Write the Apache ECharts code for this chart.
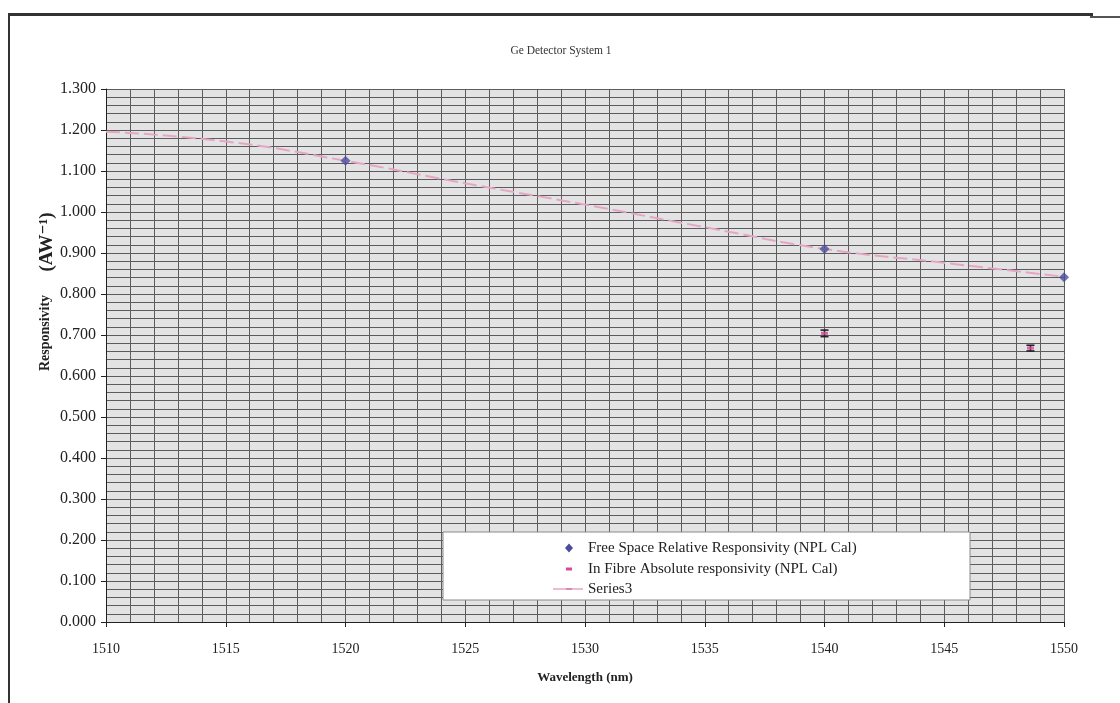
<!DOCTYPE html>
<html>
<head>
<meta charset="utf-8">
<title>Ge Detector System 1</title>
<script src="https://cdn.jsdelivr.net/npm/echarts@6/dist/echarts.min.js"></script>
<style>
  html, body { margin: 0; padding: 0; background: #fff; }
  #chart { width: 1120px; height: 703px; }
</style>
</head>
<body>
<div id="chart"></div>
<script>
// Wavelength axis (nm) and responsivity axis (A/W)
const xMin = 1510, xMax = 1550, xStep = 5;
const yMin = 0, yMax = 1.3, yStep = 0.1;

// Free space relative responsivity (NPL Cal)
const freeSpaceWavelength = [1520, 1540, 1550];
const freeSpaceResponsivity = [1.125, 0.910, 0.841];

// In fibre absolute responsivity (NPL Cal) with its uncertainty
const inFibreWavelength = [1540, 1548.6];
const inFibreResponsivity = [0.704, 0.668];
const inFibreUncertainty = [0.008, 0.007];

// Series3: responsivity curve
const series3Wavelength = [1510, 1515, 1520, 1525, 1530, 1535, 1540, 1545, 1550];
const series3Responsivity = [1.196, 1.172, 1.125, 1.070, 1.018, 0.963, 0.910, 0.876, 0.842];

const seriesNames = [
  'Free Space Relative Responsivity (NPL Cal)',
  'In Fibre Absolute responsivity (NPL Cal)',
  'Series3'
];

const serif = '"Liberation Serif", "DejaVu Serif", serif';
const pairs = (xs, ys) => xs.map((x, i) => [x, ys[i]]);

const chart = echarts.init(document.getElementById('chart'));

const option = {
  animation: false,
  backgroundColor: '#ffffff',
  title: {
    text: 'Ge Detector System 1',
    left: 556, top: 40, textAlign: 'center',
    textStyle: { fontFamily: serif, fontSize: 11.5, fontWeight: 'normal', color: '#333' }
  },
  grid: {
    left: 106, right: 56, top: 89, bottom: 81,
    show: true, backgroundColor: '#e3e3e3', borderWidth: 0
  },
  xAxis: {
    type: 'value', min: xMin, max: xMax, interval: xStep,
    name: 'Wavelength (nm)', nameLocation: 'middle', nameGap: 49,
    nameTextStyle: { fontFamily: serif, fontSize: 13, fontWeight: 'bold', color: '#222' },
    axisLine: { show: true, onZero: false, lineStyle: { color: '#222', width: 1 } },
    axisTick: { show: true, length: 5, lineStyle: { color: '#222' } },
    axisLabel: { fontFamily: serif, fontSize: 14, color: '#222', margin: 20,
                 formatter: v => String(v) },
    splitLine: { show: true, lineStyle: { color: '#5c5c5c', width: 1 } },
    minorTick: { show: false, splitNumber: 5 },
    minorSplitLine: { show: true, lineStyle: { color: '#5c5c5c', width: 1 } }
  },
  yAxis: {
    type: 'value', min: yMin, max: yMax, interval: yStep,
    axisLine: { show: true, lineStyle: { color: '#222', width: 1 } },
    axisTick: { show: true, length: 5, lineStyle: { color: '#222' } },
    axisLabel: {
      fontFamily: serif, fontSize: 16, color: '#222', margin: 10,
      formatter: v => v.toFixed(3)
    },
    splitLine: { show: true, lineStyle: { color: '#5c5c5c', width: 1 } },
    minorTick: { show: false, splitNumber: 5 },
    minorSplitLine: { show: true, lineStyle: { color: '#5c5c5c', width: 1 } }
  },
  series: [
    {
      name: seriesNames[2],
      type: 'line',
      data: pairs(series3Wavelength, series3Responsivity),
      showSymbol: false, symbol: 'none', smooth: true,
      lineStyle: { color: '#e6a6c3', width: 2, type: [14, 5] },
      z: 3
    },
    {
      name: seriesNames[0],
      type: 'scatter',
      data: pairs(freeSpaceWavelength, freeSpaceResponsivity),
      symbol: 'diamond', symbolSize: 10,
      itemStyle: { color: '#4b4c9c' },
      z: 5
    },
    {
      name: seriesNames[1] + ' uncertainty',
      type: 'custom',
      data: inFibreWavelength.map((x, i) => [x, inFibreResponsivity[i], inFibreUncertainty[i]]),
      renderItem: function (params, api) {
        const x = api.value(0), y = api.value(1), e = api.value(2);
        const hi = api.coord([x, y + e]);
        const lo = api.coord([x, y - e]);
        const cap = 4;
        const st = { stroke: '#222', lineWidth: 1.6 };
        return {
          type: 'group',
          children: [
            { type: 'line', shape: { x1: hi[0], y1: hi[1], x2: lo[0], y2: lo[1] }, style: st },
            { type: 'line', shape: { x1: hi[0] - cap, y1: hi[1], x2: hi[0] + cap, y2: hi[1] }, style: st },
            { type: 'line', shape: { x1: lo[0] - cap, y1: lo[1], x2: lo[0] + cap, y2: lo[1] }, style: st }
          ]
        };
      },
      z: 5
    },
    {
      name: seriesNames[1],
      type: 'scatter',
      data: pairs(inFibreWavelength, inFibreResponsivity),
      symbol: 'rect', symbolSize: [7, 3],
      itemStyle: { color: '#d9469e' },
      z: 6
    }
  ],
  graphic: []
};

// Y axis title: two parts with different sizes, rotated
option.graphic.push(
  {
    type: 'text', x: 45, y: 333, rotation: Math.PI / 2,
    style: { text: 'Responsivity', font: 'bold 14px ' + serif, fill: '#222',
             align: 'center', verticalAlign: 'middle' }
  },
  {
    type: 'text', x: 47, y: 242, rotation: Math.PI / 2,
    style: { text: '(AW\u207B\u00B9)', font: 'bold 19px ' + serif, fill: '#222',
             align: 'center', verticalAlign: 'middle' }
  }
);

// Page frame: rule above the chart and left border
option.graphic.push(
  { type: 'rect', shape: { x: 8, y: 13, width: 1085, height: 3 }, style: { fill: '#333' } },
  { type: 'rect', shape: { x: 1090, y: 16, width: 30, height: 2 }, style: { fill: '#555' } },
  { type: 'rect', shape: { x: 8, y: 13, width: 2, height: 690 }, style: { fill: '#333' } }
);

// Legend box with the three series keys, entries centred in the box
const lgX = 443, lgY = 532, lgW = 527, lgH = 68;
const rowY = [548, 569, 589];
const iconX = 569, textX = 588;
option.graphic.push(
  { type: 'rect', shape: { x: lgX, y: lgY, width: lgW, height: lgH },
    style: { fill: '#ffffff', stroke: '#8a8a8a', lineWidth: 1 }, z: 10 },
  { type: 'polygon', shape: { points: [[iconX, rowY[0] - 4.5], [iconX + 4, rowY[0]], [iconX, rowY[0] + 4.5], [iconX - 4, rowY[0]]] },
    style: { fill: '#4b4c9c' }, z: 11 },
  { type: 'rect', shape: { x: iconX - 3, y: rowY[1] - 1.5, width: 6, height: 3 },
    style: { fill: '#d9469e' }, z: 11 },
  { type: 'line', shape: { x1: iconX - 16, y1: rowY[2], x2: iconX + 14, y2: rowY[2] },
    style: { stroke: '#e6a6c3', lineWidth: 1.5 }, z: 11 },
  { type: 'rect', shape: { x: iconX - 3, y: rowY[2] - 1, width: 6, height: 2 },
    style: { fill: '#d98ab0' }, z: 11 }
);
seriesNames.forEach((name, i) => {
  option.graphic.push({
    type: 'text', x: textX, y: rowY[i], z: 11,
    style: { text: name, font: '15px ' + serif, fill: '#222', verticalAlign: 'middle' }
  });
});

chart.setOption(option);
</script>
</body>
</html>
